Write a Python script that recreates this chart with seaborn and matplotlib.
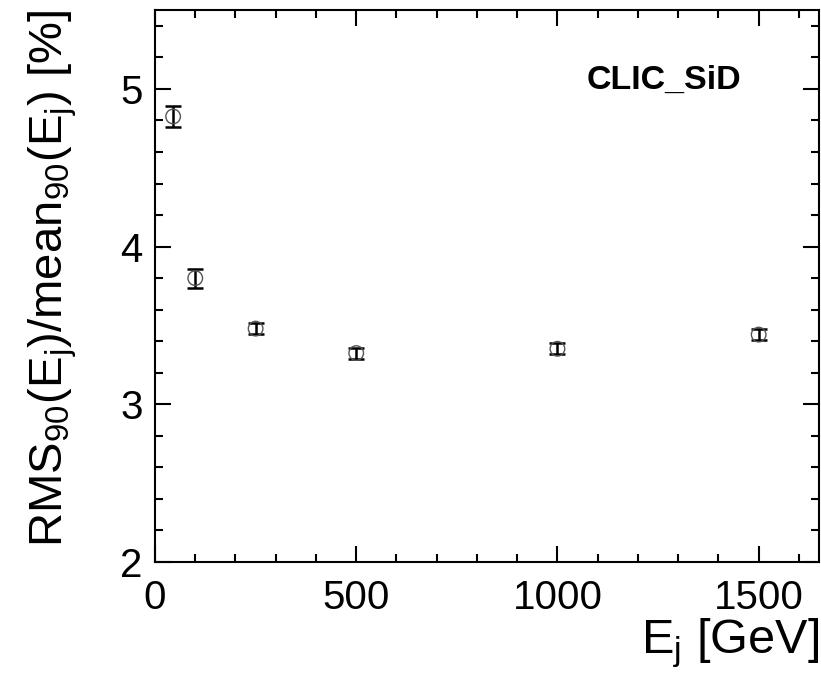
import numpy as np
import pandas as pd
import matplotlib
matplotlib.use("Agg")
import matplotlib.pyplot as plt
import seaborn as sns
from matplotlib.ticker import MultipleLocator

# ---------------- DATA ----------------
energy = [45, 100, 250, 500, 1000, 1500]          # E_j [GeV]
resolution = [4.825, 3.80, 3.48, 3.325, 3.352, 3.442]  # RMS90/mean90 [%]
res_err = [0.065, 0.06, 0.037, 0.035, 0.035, 0.035]

df = pd.DataFrame({"E": energy, "res": resolution, "err": res_err})

# ---------------- STYLE ---------------
sns.set_style("ticks")
plt.rcParams["font.family"] = ["Liberation Sans", "DejaVu Sans"]
plt.rcParams["mathtext.fontset"] = "custom"
plt.rcParams["mathtext.rm"] = "Liberation Sans"
plt.rcParams["mathtext.it"] = "Liberation Sans"
for key in ["text.color", "axes.labelcolor", "xtick.color",
            "ytick.color", "axes.edgecolor"]:
    plt.rcParams[key] = "black"

fig = plt.figure(figsize=(8.21, 6.73), dpi=100)
ax = fig.add_axes([0.1888, 0.1649, 0.8088, 0.8202])

# error bars first, open markers on top
ax.errorbar(df["E"], df["res"], yerr=df["err"], fmt="none",
            ecolor="black", elinewidth=1.8, capsize=5.5, capthick=1.8, zorder=2)
sns.scatterplot(data=df, x="E", y="res", ax=ax, marker="o", s=110,
                facecolors="none", edgecolor="#555555", linewidth=1.0, zorder=3)

ax.set_xlim(0, 1650)
ax.set_ylim(2, 5.5)
ax.xaxis.set_major_locator(MultipleLocator(500))
ax.xaxis.set_minor_locator(MultipleLocator(100))
ax.yaxis.set_major_locator(MultipleLocator(1))
ax.yaxis.set_minor_locator(MultipleLocator(0.2))

ax.tick_params(which="both", direction="in", top=True, right=True, width=1.5)
ax.tick_params(which="major", length=11.5, labelsize=29)
ax.tick_params(which="minor", length=5.8)
ax.tick_params(axis="x", which="major", pad=12)
ax.tick_params(axis="y", which="major", pad=9)
for sp in ax.spines.values():
    sp.set_linewidth(1.5)

ax.set_xlabel(r"E$_{\rm j}$ [GeV]", fontsize=35, loc="right")
ax.set_ylabel(r"RMS$_{90}$(E$_{\rm j}$)/mean$_{90}$(E$_{\rm j}$) [%]",
              fontsize=34, loc="top")
ax.xaxis.set_label_coords(1.0, -0.098)
ax.yaxis.set_label_coords(-0.115, 1.0)

ax.text(0.65, 0.857, "CLIC_SiD", transform=ax.transAxes, fontsize=24.5,
        fontweight="bold", va="baseline", ha="left")

fig.savefig("out.png", dpi=100)
plt.close(fig)
